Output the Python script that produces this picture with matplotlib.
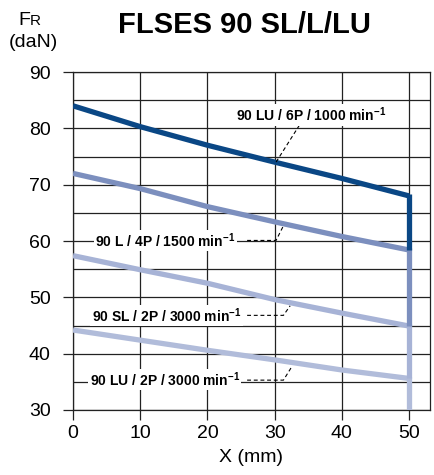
import matplotlib
matplotlib.use("Agg")
import matplotlib.pyplot as plt

plt.rcParams['font.family'] = ['Liberation Sans', 'DejaVu Sans']
plt.rcParams['mathtext.fontset'] = 'custom'
plt.rcParams['mathtext.rm'] = 'Liberation Sans'
plt.rcParams['mathtext.bf'] = 'Liberation Sans:bold'

# Data
x_mm = [0, 10, 20, 30, 40, 50]
lu_6p = [84.0, 80.3, 77.0, 74.0, 71.1, 68.0]
l_4p = [72.0, 69.3, 66.1, 63.4, 60.8, 58.4]
sl_2p = [57.4, 54.9, 52.5, 49.6, 47.2, 44.9]
lu_2p = [44.2, 42.4, 40.6, 38.9, 37.1, 35.6]
series_labels = ["90 LU / 6P / 1000 min", "90 L / 4P / 1500 min",
                 "90 SL / 2P / 3000 min", "90 LU / 2P / 3000 min"]
x_ticks = [0, 10, 20, 30, 40, 50]
y_ticks = [30, 40, 50, 60, 70, 80, 90]
y_min, y_max = 30, 90

colors = ["#0a4785", "#7c8fbe", "#a7b3d6", "#b1bcda"]
series = [lu_6p, l_4p, sl_2p, lu_2p]

fig = plt.figure(figsize=(4.35, 4.75), dpi=100)
ax = fig.add_axes([73/435, 65/475, (430-73)/435, (410-72)/475])
ax.set_xlim(0, 53.1)
ax.set_ylim(y_min, y_max)

# grid
for gx in x_ticks:
    ax.axvline(gx, color='#222222', lw=0.9, zorder=1)
for gy in range(y_min, y_max + 1, 5):
    ax.axhline(gy, color='#222222', lw=0.9, zorder=1)

# curves with vertical drops at x=50
for i, (vals, c) in enumerate(zip(series, colors)):
    ax.plot(x_mm, vals, color=c, lw=3.8, solid_capstyle='butt', zorder=3 + (4 - i) * 0.1)
    end = series[i + 1][-1] if i + 1 < len(series) else y_min
    ax.plot([x_mm[-1], x_mm[-1]], [vals[-1] + 0.3, end], color=c, lw=3.8,
            solid_capstyle='butt', zorder=3 + (4 - i) * 0.1)

ax.set_xticks(x_ticks)
ax.set_yticks(y_ticks)
ax.tick_params(axis='both', labelsize=14, length=7, width=0.9, color='#222222')
ax.tick_params(axis='x', pad=4)
ax.tick_params(axis='y', pad=9)
for s in ax.spines.values():
    s.set_linewidth(0.9)
    s.set_color('#222222')
ax.set_xlabel("X (mm)", fontsize=14, labelpad=5)

# annotations
lab_kw = dict(fontsize=10, fontweight='bold', va='center', zorder=6,
              bbox=dict(facecolor='white', edgecolor='none', pad=1.0))
sup = r"$^{\mathbf{-1}}$"
dash_kw = dict(color='black', lw=0.8, ls=(0, (3.5, 2.5)), zorder=5)

ax.text(24.2, 82.4, series_labels[0] + sup, ha='left', **lab_kw)
ax.plot([33.7, 30.2], [80.6, 74.0], **dash_kw)

ax.text(3.3, 60.1, series_labels[1] + sup, ha='left', **lab_kw)
ax.plot([25.9, 30.2, 31.3], [60.1, 60.1, 62.7], **dash_kw)

ax.text(2.8, 46.8, series_labels[2] + sup, ha='left', **lab_kw)
ax.plot([25.9, 31.3, 32.3], [46.8, 46.8, 48.5], **dash_kw)

ax.text(2.5, 35.4, series_labels[3] + sup, ha='left', **lab_kw)
ax.plot([25.9, 31.3, 32.6], [35.3, 35.3, 37.8], **dash_kw)

# titles
fig.text(244/435, 1 - 33/475, "FLSES 90 SL/L/LU", fontsize=21, fontweight='bold',
         ha='center', va='baseline')
fig.text(18/435, 1 - 25/475, "F", fontsize=14, ha='left', va='baseline')
fig.text(30/435, 1 - 25/475, "R", fontsize=11, ha='left', va='baseline')
fig.text(33/435, 1 - 47/475, "(daN)", fontsize=14, ha='center', va='baseline')

fig.savefig("out.png", dpi=100)
